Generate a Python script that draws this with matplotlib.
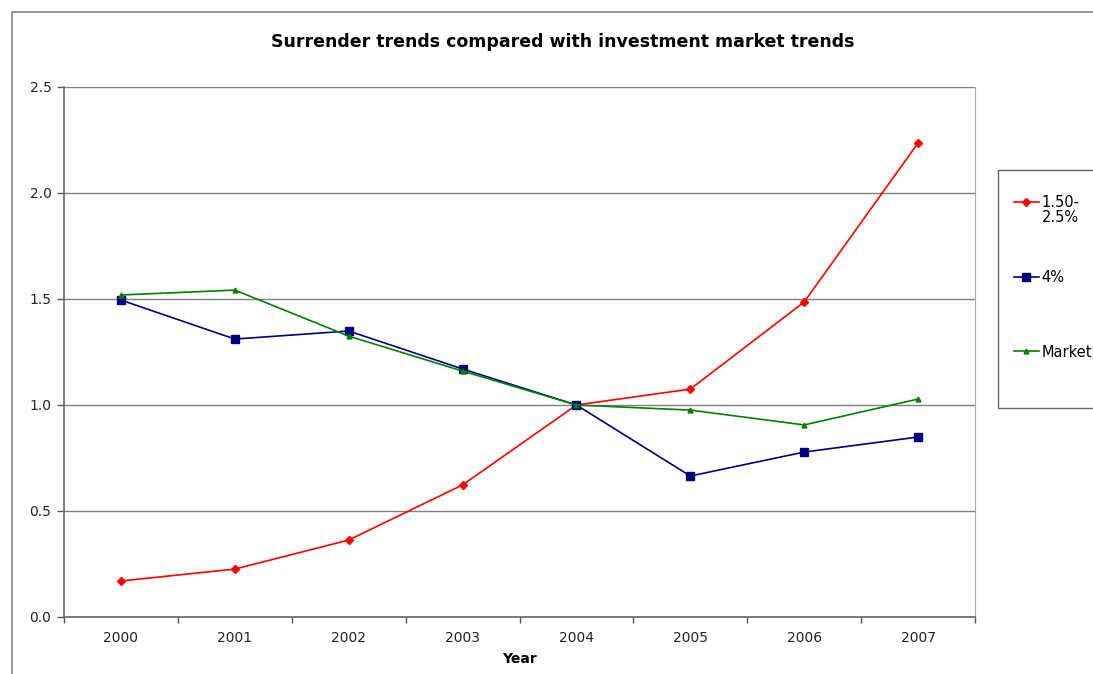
import matplotlib.pyplot as plt
from matplotlib.patches import Rectangle

# Data
years = ['2000', '2001', '2002', '2003', '2004', '2005', '2006', '2007']
band_150_250 = [0.17, 0.226, 0.363, 0.623, 1.0, 1.075, 1.486, 2.236]
band_4 = [1.495, 1.311, 1.349, 1.17, 1.0, 0.665, 0.778, 0.849]
market = [1.519, 1.542, 1.325, 1.16, 1.0, 0.976, 0.906, 1.028]

plt.rcParams['font.family'] = ['DejaVu Sans']

W, H = 1093, 674
fig = plt.figure(figsize=(W / 100, H / 100), dpi=100)

# plot area in pixels: left 64, right 975, top 87, bottom 617
ax = fig.add_axes([64 / W, 1 - 617 / H, (975 - 64) / W, (617 - 87) / H])

x = range(len(years))
l1, = ax.plot(x, band_150_250, color='#ff0000', marker='D', markersize=4, lw=1.2, label='1.50-')
l2, = ax.plot(x, band_4, color='#000080', marker='s', markersize=5.5, lw=1.2, label='4%')
l3, = ax.plot(x, market, color='#008000', marker='^', markersize=3.5, lw=1.2, label='Market')

ax.set_xlim(-0.5, len(years) - 0.5)
ax.set_ylim(0, 2.5)
ax.set_yticks([0, 0.5, 1.0, 1.5, 2.0, 2.5])
ax.set_yticklabels(['0.0', '0.5', '1.0', '1.5', '2.0', '2.5'])
ax.set_xticks(list(x))
ax.set_xticklabels(years)
ax.set_xticks([i + 0.5 for i in range(-1, len(years))], minor=True)
ax.tick_params(axis='x', which='major', length=0, pad=10, labelsize=10, colors='#222222')
ax.tick_params(axis='x', which='minor', length=4, width=1, color='#555555')
ax.tick_params(axis='y', length=5, width=1, color='#555555', labelsize=10, labelcolor='#222222', pad=4)

ax.grid(axis='y', color='#808080', lw=1)
ax.set_axisbelow(True)
for side in ['left', 'bottom']:
    ax.spines[side].set_color('#666666')
    ax.spines[side].set_linewidth(1.2)
ax.spines['top'].set_visible(False)
ax.spines['right'].set_color('#aaaaaa')

ax.set_xlabel('Year', fontweight='bold', fontsize=10, labelpad=5)
fig.text(563 / W, 1 - 42 / H, 'Surrender trends compared with investment market trends',
         ha='center', va='center', fontweight='bold', fontsize=12.5)

# outer chart border
fig.patches.append(Rectangle((12 / W, -0.05), 1.2, 1 - 12 / H + 0.05, transform=fig.transFigure,
                             fill=False, edgecolor='#888888', lw=1.2))

# legend box and entries
fig.patches.append(Rectangle((998 / W, 1 - 408 / H), 0.2, (408 - 170) / H, transform=fig.transFigure,
                             fill=False, edgecolor='#666666', lw=1))
leg = fig.legend(handles=[l1, l2, l3], loc='upper left',
                 bbox_to_anchor=(1014 / W, 1 - 195 / H), fontsize=10.5,
                 frameon=False, labelspacing=4.1, handlelength=1.7, handletextpad=0.2,
                 borderpad=0, borderaxespad=0)
fig.text(1042 / W, 1 - 217 / H, '2.5%', fontsize=10.5, ha='left', va='center')

fig.savefig('out.png', dpi=100)
